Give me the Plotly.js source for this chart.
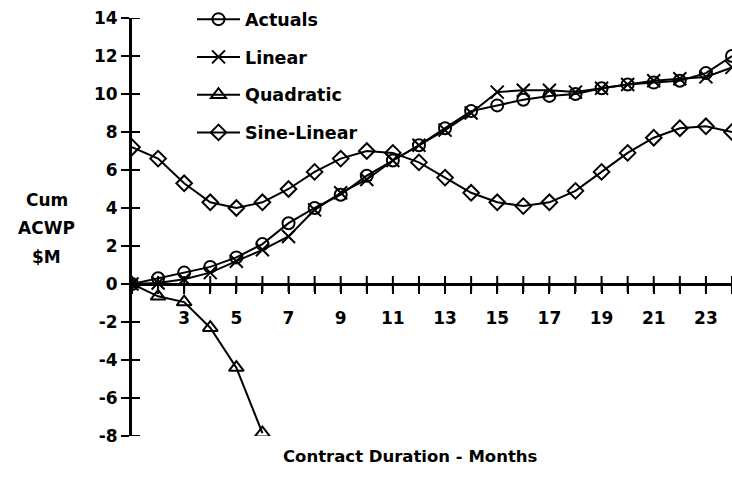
<!DOCTYPE html>
<html>
<head>
<meta charset="utf-8">
<script src="https://cdn.plot.ly/plotly-3.0.1.min.js"></script>
<style>html,body{margin:0;padding:0;background:#fff;}#chart{width:732px;height:491px;}</style>
</head>
<body>
<div id="chart"></div>
<script>
const months = [1,2,3,4,5,6,7,8,9,10,11,12,13,14,15,16,17,18,19,20,21,22,23,24];
const actuals = [0,0.3,0.6,0.9,1.4,2.1,3.2,4.0,4.7,5.7,6.5,7.3,8.2,9.1,9.4,9.7,9.9,10.0,10.3,10.5,10.6,10.7,11.1,12.0];
const linear = [0,0.05,0.25,0.6,1.2,1.8,2.5,3.9,4.8,5.5,6.5,7.3,8.1,9.0,10.1,10.2,10.2,10.1,10.3,10.5,10.7,10.8,10.9,11.4];
const quadMonths = [1,2,3,4,5,6];
const quadratic = [0,-0.65,-0.95,-2.3,-4.4,-7.85];
const sineLinear = [7.2,6.6,5.3,4.3,4.0,4.3,5.0,5.9,6.6,7.0,6.9,6.4,5.6,4.8,4.3,4.1,4.3,4.9,5.9,6.9,7.7,8.2,8.3,8.0];
const seriesNames = ['Actuals','Linear','Quadratic','Sine-Linear'];
const xTickVals = [1,2,3,4,5,6,7,8,9,10,11,12,13,14,15,16,17,18,19,20,21,22,23,24];
const xTickText = ['','','3','','5','','7','','9','','11','','13','','15','','17','','19','','21','','23',''];
const yTickVals = [-8,-6,-4,-2,0,2,4,6,8,10,12,14];
const yTickText = ['-8','-6','-4','-2','0','2','4','6','8','10','12','14'];
const yTitleLines = ['Cum','ACWP','$M'];
const xTitle = 'Contract Duration - Months';

const FONT = 'DejaVu Sans, Arial, sans-serif';
const lineStyle = {color:'#000', width:2};
function mk(sym, size){ return {symbol:sym, size:size, color:'#000', line:{color:'#000', width:2}}; }

const traces = [
  {x:months, y:actuals, name:seriesNames[0], mode:'lines+markers', line:lineStyle, marker:mk('circle-open',12), legendgroup:'a'},
  {x:months, y:linear, name:seriesNames[1], mode:'lines+markers', line:lineStyle, marker:mk('x-thin-open',13), legendgroup:'b'},
  {x:quadMonths, y:quadratic, name:seriesNames[2], mode:'lines+markers', line:lineStyle, marker:mk('triangle-up-open',13), legendgroup:'c'},
  {x:months, y:sineLinear, name:seriesNames[3], mode:'lines+markers', line:lineStyle, marker:mk('diamond-open',12), legendgroup:'d'}
];

const yMin = -8, yMax = 14, xMin = 1, xMax = 24;
const zeroPos = (0 - yMin) / (yMax - yMin);
const tickFont = {family:FONT, size:17, color:'#000', weight:700};

// crossing tick marks, placed through the axes' own scales
const tickShapes = [];
xTickVals.forEach(v => tickShapes.push({type:'line', xref:'x', yref:'y', ysizemode:'pixel', yanchor:0,
  x0:v, x1:v, y0:-8, y1:8, line:{color:'#000', width:2}}));
yTickVals.forEach(v => tickShapes.push({type:'line', xref:'x', yref:'y', xsizemode:'pixel', xanchor:xMin,
  x0:-8, x1:8, y0:v, y1:v, line:{color:'#000', width:2}}));

const layout = {
  width:732, height:491,
  margin:{l:132, r:0, t:18, b:55},
  paper_bgcolor:'#fff', plot_bgcolor:'rgba(0,0,0,0)',
  showlegend:true,
  legend:{x:0.1, xanchor:'left', y:1.04, yanchor:'top', font:{family:FONT, size:17.5, color:'#000', weight:700},
          traceorder:'grouped', tracegroupgap:12, itemwidth:43, bgcolor:'rgba(0,0,0,0)', borderwidth:0},
  xaxis:{range:[xMin,xMax], anchor:'free', position:zeroPos, showgrid:false, zeroline:false,
         showline:true, linecolor:'#000', linewidth:3,
         tickmode:'array', tickvals:xTickVals, ticktext:xTickText,
         ticks:'outside', ticklen:8, tickwidth:2, tickcolor:'#000', ticklabelstandoff:10,
         tickfont:tickFont},
  yaxis:{range:[yMin,yMax], showgrid:false, zeroline:false,
         showline:true, linecolor:'#000', linewidth:3,
         tickmode:'array', tickvals:yTickVals, ticktext:yTickText,
         ticks:'outside', ticklen:8, tickwidth:2, tickcolor:'#000', tickfont:tickFont},
  shapes:tickShapes,
  annotations:[
    {text:yTitleLines[0], xref:'paper', yref:'paper', x:-0.142, y:(436-200)/418, showarrow:false, xanchor:'center', yanchor:'middle', font:{family:FONT, size:17, color:'#000', weight:700}},
    {text:yTitleLines[1], xref:'paper', yref:'paper', x:-0.142, y:(436-228)/418, showarrow:false, xanchor:'center', yanchor:'middle', font:{family:FONT, size:17, color:'#000', weight:700}},
    {text:yTitleLines[2], xref:'paper', yref:'paper', x:-0.142, y:(436-257)/418, showarrow:false, xanchor:'center', yanchor:'middle', font:{family:FONT, size:17, color:'#000', weight:700}},
    {text:xTitle, xref:'paper', yref:'paper', x:(410-132)/600, y:(436-456)/418, showarrow:false, xanchor:'center', yanchor:'middle', font:{family:FONT, size:16.5, color:'#000', weight:700}}
  ]
};

Plotly.newPlot('chart', traces, layout, {staticPlot:true, displayModeBar:false});
</script>
</body>
</html>
